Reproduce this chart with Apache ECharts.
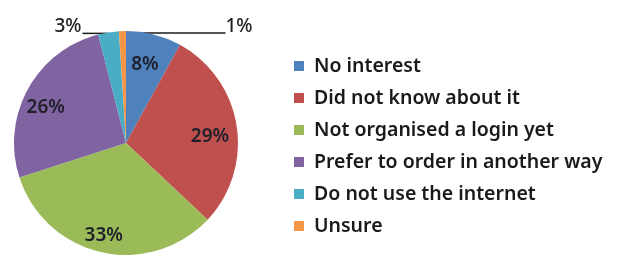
<!DOCTYPE html>
<html>
<head>
<meta charset="utf-8">
<script src="https://cdn.jsdelivr.net/npm/echarts@6/dist/echarts.min.js"></script>
<style>html,body{margin:0;padding:0;background:#fff}#c{width:618px;height:257px}</style>
</head>
<body>
<div id="c"></div>
<script>
const categories = ['No interest', 'Did not know about it', 'Not organised a login yet', 'Prefer to order in another way', 'Do not use the internet', 'Unsure'];
const values = [8, 29, 33, 26, 3, 1];
const colors = ['#4F81BD', '#C0504D', '#9BBB59', '#8064A2', '#4BACC6', '#F79646'];
const insideLabelled = [true, true, true, true, false, false];

const FONT = 'Noto Sans';
const center = [126, 143];
const R = 112;

const chart = echarts.init(document.getElementById('c'), null, {renderer: 'canvas'});
const baseData = categories.map((n, i) => ({
  name: n, value: values[i], itemStyle: {color: colors[i]},
  label: {show: !insideLabelled[i]},
  labelLine: {show: !insideLabelled[i]}
}));
const overlayData = categories.map((n, i) => ({
  name: n, value: values[i],
  label: {show: insideLabelled[i]}
}));

chart.setOption({
  backgroundColor: '#ffffff',
  animation: false,
  legend: {
    orient: 'vertical', left: 289, top: 51,
    itemWidth: 10, itemHeight: 10, itemGap: 12, icon: 'rect',
    data: categories,
    textStyle: {fontFamily: FONT, fontSize: 19.5, lineHeight: 20, fontWeight: 600, color: '#1a1a1a', padding: [0,0,0,5]}
  },
  series: [
    {
      type: 'pie', center: center, radius: [0, R], startAngle: 90, clockwise: true,
      data: baseData, silent: true,
      itemStyle: {borderWidth: 0},
      label: {position: 'outside', formatter: '{d}%', fontFamily: FONT, fontSize: 19, fontWeight: 500, color: '#222'},
      labelLine: {show: true, length: 0, length2: 10, lineStyle: {color: '#1a1a1a', width: 1.5}},
      labelLayout: function (p) {
        const pts = p.labelLinePoints;
        if (!pts) return {};
        const a = pts[0];
        if (p.dataIndex === 4) {
          const ex = a[0] - 26;
          return {x: ex - 1, y: a[1] + 4, align: 'right', verticalAlign: 'bottom',
            labelLinePoints: [[a[0], a[1] + 1], [a[0], a[1] + 1], [ex, a[1] + 1]]};
        }
        if (p.dataIndex === 5) {
          const ex = a[0] + 103;
          return {x: ex, y: a[1] + 5, align: 'left', verticalAlign: 'bottom',
            labelLinePoints: [[a[0], a[1] + 2], [a[0], a[1] + 2], [ex, a[1] + 2]]};
        }
        return {};
      }
    },
    {
      type: 'pie', center: center, radius: [R * 0.52, R], startAngle: 90, clockwise: true,
      data: overlayData, silent: true,
      itemStyle: {color: 'rgba(0,0,0,0)'},
      label: {position: 'inside', formatter: '{d}%', fontFamily: FONT, fontSize: 19, fontWeight: 600, color: '#1f1f2a', offset: [-3, 7]},
      labelLine: {show: false}
    }
  ]
});
</script>
</body>
</html>
